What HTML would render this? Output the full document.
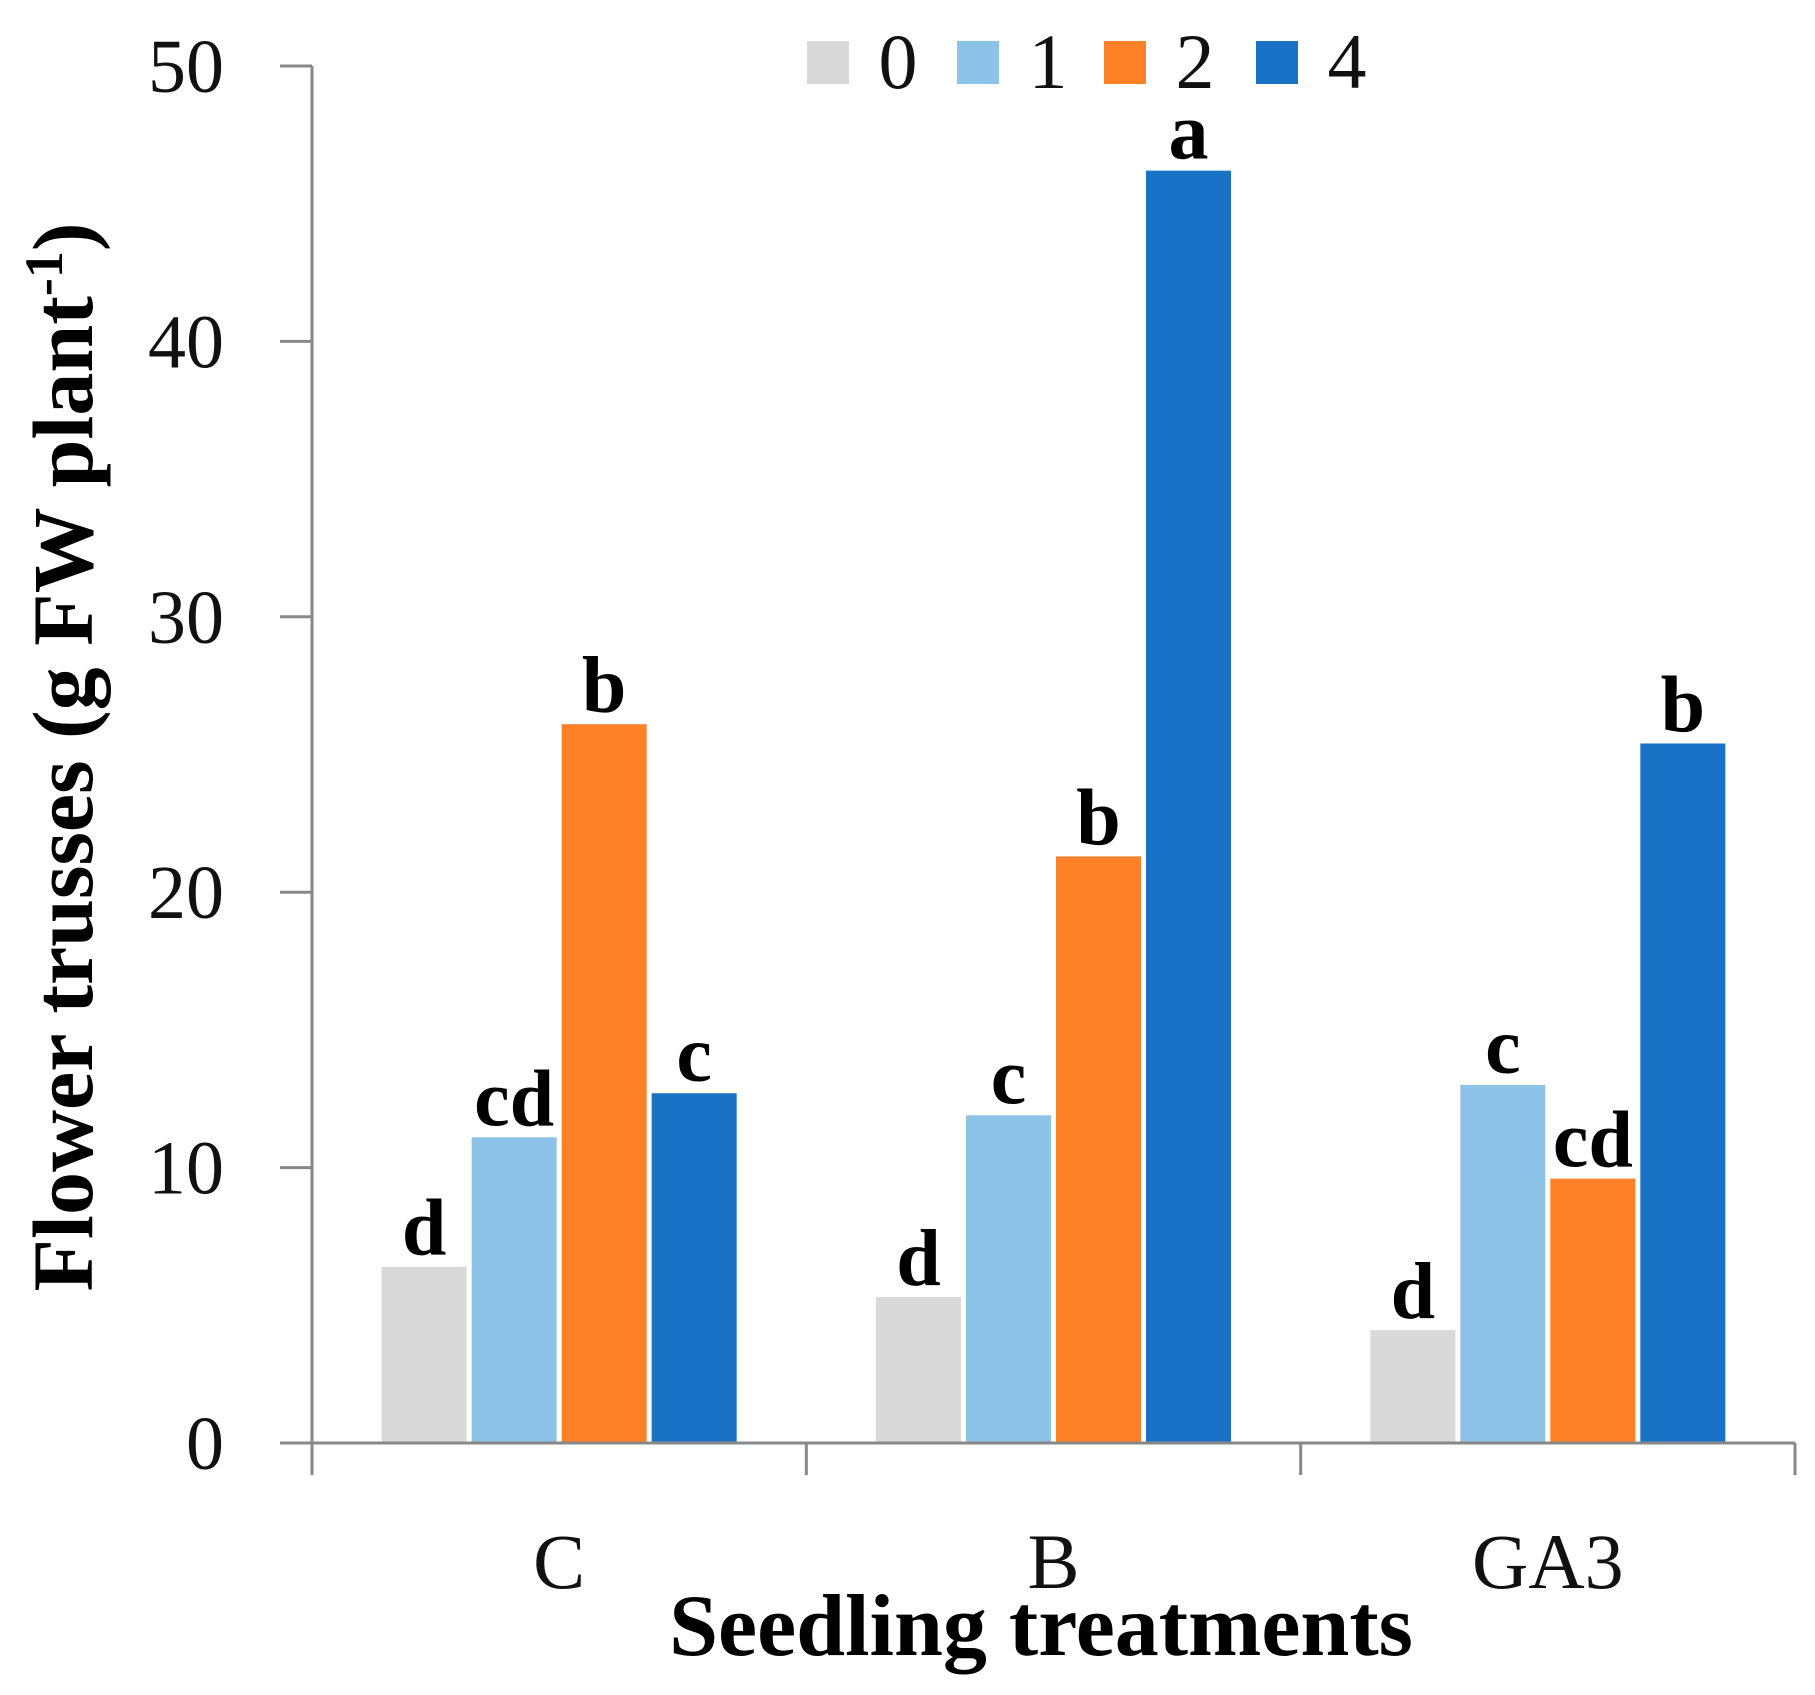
<!DOCTYPE html>
<html><head><meta charset="utf-8"><style>
html,body{margin:0;padding:0;background:#fff}
svg{display:block}
text{font-family:"Liberation Serif",serif}
</style></head><body>
<svg id="chart" width="1815" height="1695" viewBox="0 0 1815 1695"></svg>
<script>
const categories = ["C","B","GA3"];
const seriesNames = ["0","1","2","4"];
const s0 = [6.4, 5.3, 4.1];
const s1 = [11.1, 11.9, 13.0];
const s2 = [26.1, 21.3, 9.6];
const s4 = [12.7, 46.2, 25.4];
const letters0 = ["d","d","d"];
const letters1 = ["cd","c","c"];
const letters2 = ["b","b","cd"];
const letters4 = ["c","a","b"];
const yTicks = [0,10,20,30,40,50];

const series=[s0,s1,s2,s4];
const letters=[letters0,letters1,letters2,letters4];
const colors=["#d9d9d9","#8dc3e6","#fe8128","#1a72c6"];
const NS="http://www.w3.org/2000/svg";
const svg=document.getElementById('chart');
const X0=312,X1=1795,Y0=1443,Y50=66;
const y=v=>Y0-(v/50)*(Y0-Y50);
const catW=(X1-X0)/categories.length;
function el(tag,attrs,txt){const e=document.createElementNS(NS,tag);for(const k in attrs)e.setAttribute(k,attrs[k]);if(txt!==undefined)e.textContent=txt;svg.appendChild(e);return e;}

yTicks.forEach(t=>{
  const l=el('line',{x1:X0-32,x2:X0,y1:y(t),y2:y(t),stroke:'#888','stroke-width':3});
  
  
  const tx=el('text',{x:224,y:y(t)+26,'text-anchor':'end','font-size':76,fill:'#111'},t);
  
  
});
const barW=85,gap=5;
categories.forEach((c,i)=>{
  const cx=X0+catW*(i+0.5);
  const start=cx-(4*barW+3*gap)/2;
  series.forEach((s,j)=>{
    const bx=start+j*(barW+gap);
    const r=el('rect',{x:bx,y:y(s[i]),width:barW,height:Y0-y(s[i]),fill:colors[j]});
    
    
    const lt=el('text',{x:bx+barW/2,y:y(s[i])-12,'text-anchor':'middle','font-size':80,'font-weight':'bold',fill:'#000'},letters[j][i]);
    
    
  });
  const cl=el('text',{x:cx,y:1588,'text-anchor':'middle','font-size':78,fill:'#111'},c);
  
  
});
for(let i=0;i<=categories.length;i++){
  const xx=X0+catW*i;
  const t=el('line',{x1:xx,x2:xx,y1:Y0,y2:Y0+32,stroke:'#888','stroke-width':3});
  
  
}
const ya=el('line',{x1:X0,x2:X0,y1:Y50,y2:Y0,stroke:'#888','stroke-width':3});


const xa=el('line',{x1:X0,x2:X1,y1:Y0,y2:Y0,stroke:'#888','stroke-width':3});



const legX=[807,957,1104,1256];
seriesNames.forEach((n,j)=>{
  const r=el('rect',{x:legX[j],y:41,width:42,height:43,fill:colors[j]});
  
  
  const t=el('text',{x:legX[j]+91,y:88,'text-anchor':'middle','font-size':78,fill:'#111'},n);
  
  
});

const xt=el('text',{x:1041,y:1655,'text-anchor':'middle','font-size':88,'font-weight':'bold',fill:'#000'},'Seedling treatments');


const yt=el('text',{x:0,y:0,'text-anchor':'middle','font-size':86,'font-weight':'bold',fill:'#000',transform:'translate(92,757) rotate(-90)'});


const t1=document.createElementNS(NS,'tspan');t1.textContent='Flower trusses (g FW plant';yt.appendChild(t1);
const t2=document.createElementNS(NS,'tspan');t2.setAttribute('dy','-30');t2.setAttribute('font-size','54');t2.textContent='-1';yt.appendChild(t2);
const t3=document.createElementNS(NS,'tspan');t3.setAttribute('dy','30');t3.textContent=')';yt.appendChild(t3);
</script>
</body></html>
